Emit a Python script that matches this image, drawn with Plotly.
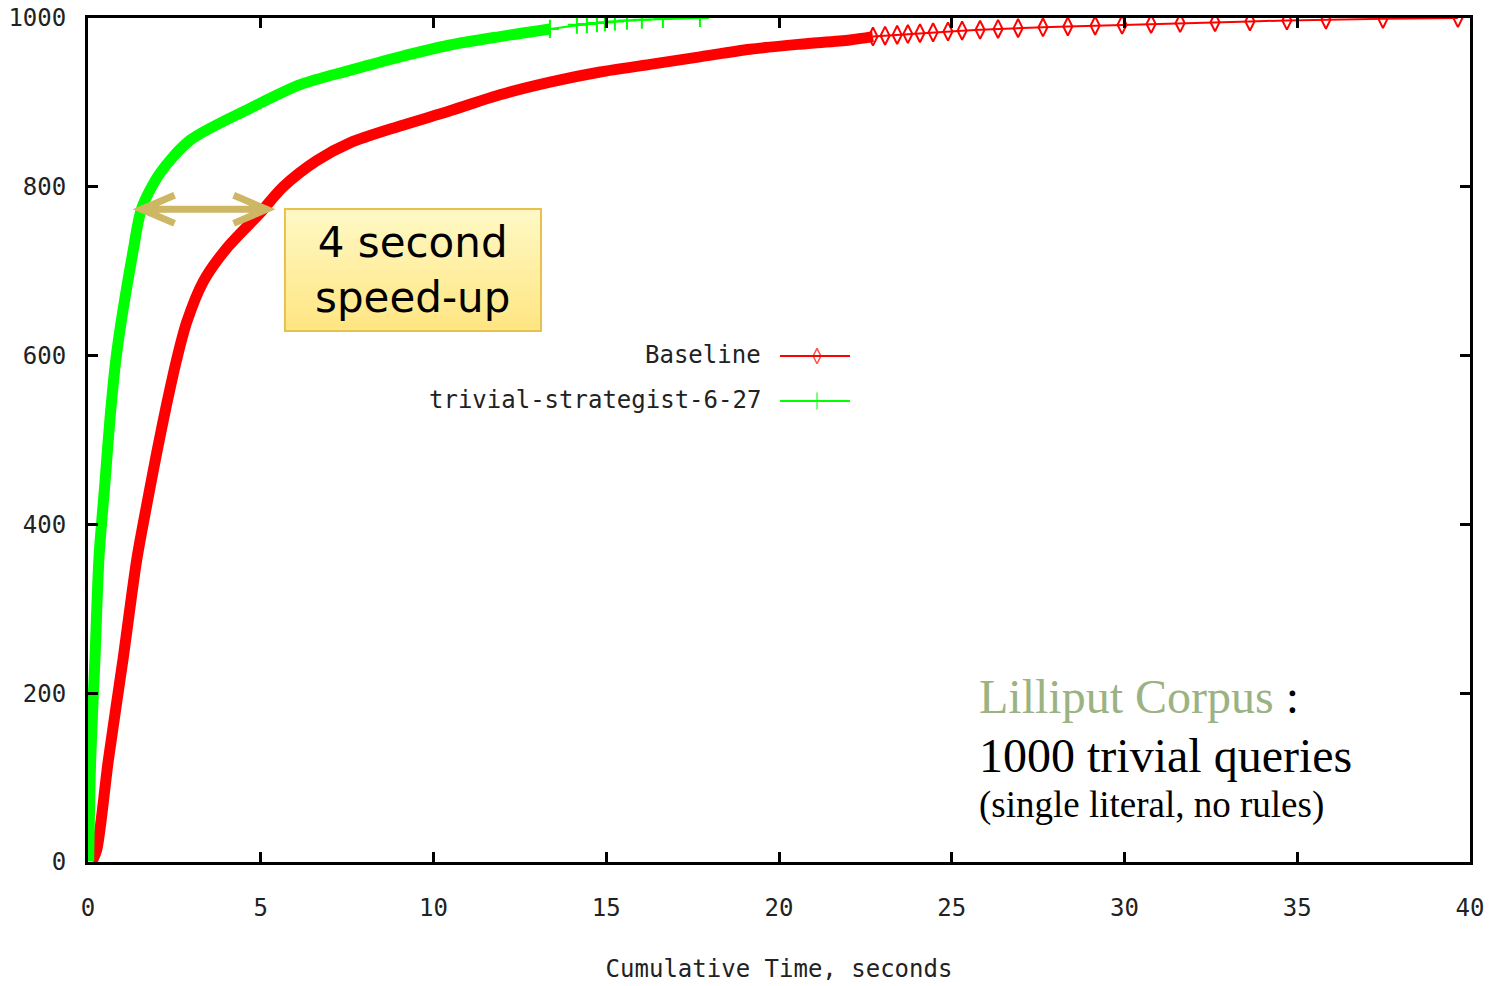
import plotly.graph_objects as go

# ---------------- data ----------------
baseline_time = [0.12, 0.25, 0.59, 1.02, 1.41, 1.70, 1.99, 2.28, 2.57, 2.86, 3.34, 4.01,
                 4.98, 5.65, 6.62, 7.58, 9.03, 10.48, 11.92, 13.37, 14.82, 16.27, 17.71,
                 19.16, 20.61, 22.05, 22.72, 23.07, 23.42, 23.73, 24.08, 24.46, 24.89,
                 25.30, 25.82, 26.34, 26.92, 27.64, 28.36, 29.15, 29.93, 30.77, 31.61,
                 32.62, 33.63, 34.70, 35.83, 37.48, 39.65]
baseline_count = [1, 14, 121, 242, 358, 423, 485, 543, 596, 640, 688, 727,
                  769, 800, 831, 852, 872, 890, 909, 924, 936, 945, 954,
                  963, 969, 974, 978, 979, 980, 981, 982, 983, 984,
                  985, 986, 987, 988, 989, 990, 991, 992, 993, 994,
                  995, 996, 997, 998, 999, 1000]

strat_time = [0.02, 0.077, 0.20, 0.32, 0.49, 0.64, 0.83, 1.31, 1.55, 2.08, 2.95, 4.69,
              6.14, 7.58, 9.03, 10.48, 11.92, 13.37, 14.15, 14.44, 14.73, 14.96, 15.25,
              15.60, 16.03, 16.64, 17.71]
strat_count = [1, 121, 239, 362, 449, 527, 603, 725, 774, 816, 855, 893,
               921, 938, 954, 968, 978, 987, 992, 993, 994, 995, 996,
               997, 998, 999, 1000]

series_names = ["Baseline", "trivial-strategist-6-27"]
x_ticks = [0, 5, 10, 15, 20, 25, 30, 35, 40]
y_ticks = [0, 200, 400, 600, 800, 1000]

# ---------------- style ----------------
RED = "#FF0000"
GREEN = "#00FF00"
MONO = "DejaVu Sans Mono"
# count at which the individual points stop overlapping into a solid band
BASE_SPLIT = 978
STRAT_SPLIT = 987

fig = go.Figure()


def add_series(t, c, split, color, symbol, msize):
    i = c.index(split)
    # dense part: overlapping points form a solid band
    fig.add_trace(go.Scatter(x=t[:i + 1], y=c[:i + 1], mode="lines",
                             line=dict(color=color, width=11, shape="spline",
                                       smoothing=0.8),
                             showlegend=False, hoverinfo="x+y"))
    # sparse tail: individual points visible
    fig.add_trace(go.Scatter(x=t[i:], y=c[i:], mode="lines+markers",
                             line=dict(color=color, width=2),
                             marker=dict(symbol=symbol, size=msize, color=color,
                                         line=dict(color=color, width=2)),
                             showlegend=False))


add_series(baseline_time, baseline_count, BASE_SPLIT, RED, "diamond-tall-open", 13)
add_series(strat_time, strat_count, STRAT_SPLIT, GREEN, "cross-thin-open", 13)

# ---------------- custom legend (text left of the sample, like gnuplot) ----------------
legend_rows = [(series_names[0], RED, "diamond-tall-open", 11, 0.6007, 0.5995),
               (series_names[1], GREEN, "cross-thin-open", 12, 0.5474, 0.5462)]
for name, color, sym, ms, ty, ly in legend_rows:
    fig.add_annotation(text=name, xref="paper", yref="paper", x=0.4884, y=ty,
                       xanchor="right", yanchor="middle", showarrow=False,
                       font=dict(family=MONO, size=24, color="#222"))
    fig.add_trace(go.Scatter(x=[0.5007, 0.5275, 0.5514], y=[ly, ly, ly],
                             xaxis="x2", yaxis="y2", mode="lines+markers",
                             line=dict(color=color, width=2),
                             marker=dict(symbol=sym, size=[0, ms, 0], color=color,
                                         line=dict(color=color, width=1.5)),
                             showlegend=False, hoverinfo="skip"))

# ---------------- "4 second speed-up" call-out ----------------
bx0, bx1, by0, by1 = 0.1425, 0.3278, 0.6291, 0.7737
n = 16
top = (255, 249, 198)
bot = (255, 229, 130)
shapes = []
for k in range(n):
    f = (k + 0.5) / n
    col = tuple(int(round(top[j] + (bot[j] - top[j]) * f)) for j in range(3))
    ya = by1 - (by1 - by0) * k / n
    yb = by1 - (by1 - by0) * (k + 1) / n
    shapes.append(dict(type="rect", xref="paper", yref="paper", x0=bx0, x1=bx1,
                       y0=yb, y1=ya + 0.0005, line=dict(width=0),
                       fillcolor="rgb(%d,%d,%d)" % col, layer="above"))
shapes.append(dict(type="rect", xref="paper", yref="paper", x0=bx0, x1=bx1,
                   y0=by0, y1=by1, line=dict(color="#E6C14E", width=2),
                   fillcolor="rgba(0,0,0,0)", layer="above"))

# double-headed arrow between the two curves at ~773 queries
ay = 773.3
axl, axr, adx, ady = 1.55, 5.17, 0.955, 16.6
path = ("M %f,%f L %f,%f " % (axl, ay, axr, ay) +
        "M %f,%f L %f,%f L %f,%f " % (axl + adx, ay + ady, axl, ay, axl + adx, ay - ady) +
        "M %f,%f L %f,%f L %f,%f" % (axr - adx, ay + ady, axr, ay, axr - adx, ay - ady))
shapes.append(dict(type="path", xref="x", yref="y", path=path,
                   line=dict(color="#CDB664", width=7), layer="above"))

fig.add_annotation(text="4 second<br>speed-up", xref="paper", yref="paper",
                   x=(bx0 + bx1) / 2, y=(by0 + by1) / 2, xanchor="center",
                   yanchor="middle", showarrow=False,
                   font=dict(family="DejaVu Sans", size=42, color="#000"))

# ---------------- corpus description ----------------
SERIF = "Liberation Serif"
fig.add_annotation(text='<span style="color:#9BB282">Lilliput Corpus</span> :',
                   xref="paper", yref="paper", x=0.6433, y=0.1955, xanchor="left",
                   yanchor="middle", showarrow=False,
                   font=dict(family=SERIF, size=48, color="#000"))
fig.add_annotation(text="1000 trivial queries", xref="paper", yref="paper",
                   x=0.6433, y=0.1256, xanchor="left", yanchor="middle",
                   showarrow=False, font=dict(family=SERIF, size=48, color="#000"))
fig.add_annotation(text="(single literal, no rules)", xref="paper", yref="paper",
                   x=0.6433, y=0.0675, xanchor="left", yanchor="middle",
                   showarrow=False, font=dict(family=SERIF, size=37, color="#000"))

axis_common = dict(showgrid=False, zeroline=False, showline=True, linecolor="#000",
                   linewidth=3, mirror="allticks", ticks="inside", ticklen=10,
                   tickwidth=3, tickcolor="#000", automargin=False,
                   tickfont=dict(family=MONO, size=24, color="#222"))

fig.update_layout(
    width=1500, height=986,
    margin=dict(l=88, r=30, t=18, b=124),
    paper_bgcolor="white", plot_bgcolor="white",
    showlegend=False,
    shapes=shapes,
    xaxis=dict(range=[0, 40], tickvals=x_ticks, ticklabelstandoff=22,
               title=dict(text="Cumulative Time, seconds", standoff=40,
                          font=dict(family=MONO, size=24, color="#222")),
               **axis_common),
    yaxis=dict(range=[0, 1000], tickvals=y_ticks, ticklabelstandoff=14,
               **axis_common),
    xaxis2=dict(overlaying="x", range=[0, 1], visible=False, fixedrange=True),
    yaxis2=dict(overlaying="y", range=[0, 1], visible=False, fixedrange=True),
)

fig.write_html("out.html")
